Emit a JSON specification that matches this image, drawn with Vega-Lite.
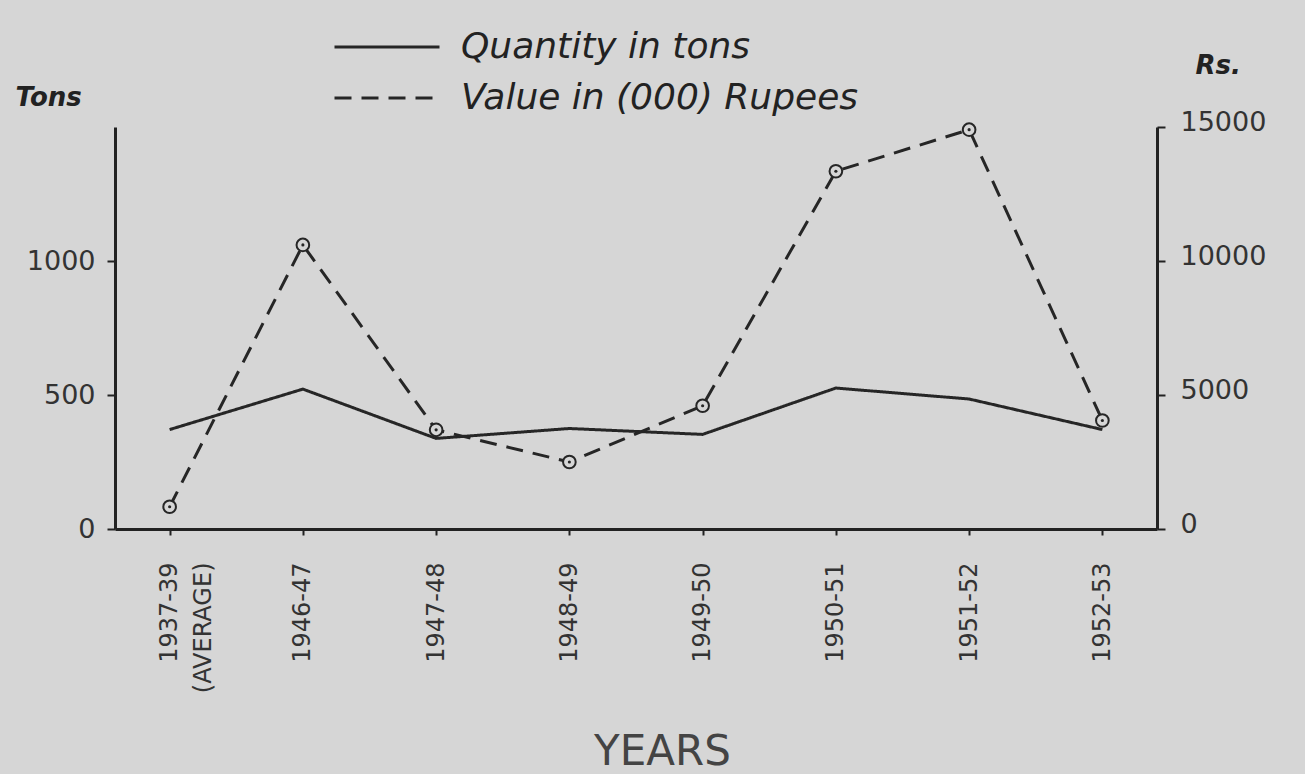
{
  "$schema": "https://vega.github.io/schema/vega-lite/v6.json",
  "width": 1042,
  "height": 402,
  "autosize": {"type": "none"},
  "padding": {"left": 115, "top": 127, "right": 148, "bottom": 245},
  "background": "#d6d6d6",
  "config": {"view": {"stroke": null}, "font": "DejaVu Sans"},
  "data": {
    "values": [
      {"year": "1937-39", "tons": 371, "rupees": 830},
      {"year": "1946-47", "tons": 522, "rupees": 10600},
      {"year": "1947-48", "tons": 338, "rupees": 3700},
      {"year": "1948-49", "tons": 375, "rupees": 2500},
      {"year": "1949-50", "tons": 353, "rupees": 4600},
      {"year": "1950-51", "tons": 526, "rupees": 13350},
      {"year": "1951-52", "tons": 485, "rupees": 14900},
      {"year": "1952-53", "tons": 371, "rupees": 4050}
    ]
  },
  "encoding": {
    "x": {
      "field": "year",
      "type": "ordinal",
      "sort": null,
      "scale": {"type": "point", "padding": 0.41},
      "axis": {
        "title": "YEARS",
        "titleFontSize": 42,
        "titleFontWeight": "normal",
        "titleColor": "#444",
        "titleX": 547,
        "titleY": 222,
        "titleAlign": "center",
        "titleBaseline": "middle",
        "labelAngle": -90,
        "labelFontSize": 24,
        "labelColor": "#333",
        "labelPadding": 27,
        "labelLineHeight": 34,
        "labelExpr": "datum.value == '1937-39' ? ['1937-39', '(AVERAGE)'] : datum.value",
        "tickSize": 6,
        "tickWidth": 2,
        "tickColor": "#222",
        "domainColor": "#222",
        "domainWidth": 3,
        "grid": false
      }
    }
  },
  "layer": [
    {
      "mark": {"type": "line", "color": "#262626", "strokeWidth": 3},
      "encoding": {
        "y": {
          "field": "tons",
          "type": "quantitative",
          "scale": {"domain": [0, 1500], "nice": false},
          "axis": {
            "orient": "left",
            "values": [0, 500, 1000],
            "format": "d",
            "title": "Tons",
            "titleAngle": 0,
            "titleX": -100,
            "titleY": -30,
            "titleAlign": "left",
            "titleBaseline": "middle",
            "titleFontSize": 26,
            "titleFontStyle": "italic",
            "titleFontWeight": "bold",
            "titleColor": "#222",
            "labelFontSize": 27,
            "labelColor": "#333",
            "labelPadding": 12,
            "tickSize": 8,
            "tickWidth": 2,
            "tickColor": "#222",
            "domainColor": "#222",
            "domainWidth": 3,
            "grid": false
          }
        },
        "strokeDash": {
          "datum": "Quantity in tons",
          "scale": {"domain": ["Quantity in tons"], "range": [[1, 0]]},
          "legend": {
            "orient": "none",
            "legendX": 218,
            "legendY": -134,
            "title": null,
            "symbolType": "stroke",
            "symbolSize": 11025,
            "symbolStrokeWidth": 3,
            "symbolStrokeColor": "#262626",
            "labelFontSize": 36,
            "labelFontStyle": "italic",
            "labelColor": "#222",
            "labelOffset": 20,
            "labelLimit": 0
          }
        }
      }
    },
    {
      "encoding": {
        "y": {
          "field": "rupees",
          "type": "quantitative",
          "scale": {"domain": [0, 15000], "nice": false},
          "axis": {
            "orient": "right",
            "values": [0, 5000, 10000, 15000],
            "format": "d",
            "title": "Rs.",
            "titleAngle": 0,
            "titleX": 38,
            "titleY": -62,
            "titleAlign": "left",
            "titleBaseline": "middle",
            "titleFontSize": 26,
            "titleFontStyle": "italic",
            "titleFontWeight": "bold",
            "titleColor": "#222",
            "labelFontSize": 27,
            "labelColor": "#333",
            "labelPadding": 15,
            "labelOffset": -5,
            "tickSize": 8,
            "tickWidth": 2,
            "tickColor": "#222",
            "domainColor": "#222",
            "domainWidth": 3,
            "grid": false
          }
        }
      },
      "layer": [
        {
          "mark": {"type": "line", "color": "#262626", "strokeWidth": 3},
          "encoding": {
            "strokeDash": {
              "datum": "Value in (000) Rupees",
              "scale": {"domain": ["Value in (000) Rupees"], "range": [[17, 10]]},
              "legend": {
                "orient": "none",
                "legendX": 218,
                "legendY": -83,
                "title": null,
                "symbolType": "stroke",
                "symbolSize": 11025,
                "symbolStrokeWidth": 3,
                "symbolStrokeColor": "#262626",
                "labelFontSize": 36,
                "labelFontStyle": "italic",
                "labelColor": "#222",
                "labelOffset": 20,
                "labelLimit": 0
              }
            }
          }
        },
        {
          "mark": {"type": "point", "shape": "circle", "filled": true, "fill": "#d6d6d6", "stroke": "#262626", "strokeWidth": 2, "size": 160, "opacity": 1}
        },
        {
          "mark": {"type": "point", "shape": "circle", "filled": true, "color": "#262626", "size": 10, "opacity": 1}
        }
      ]
    }
  ],
  "resolve": {
    "scale": {"y": "independent", "strokeDash": "independent"},
    "legend": {"strokeDash": "independent"}
  }
}
